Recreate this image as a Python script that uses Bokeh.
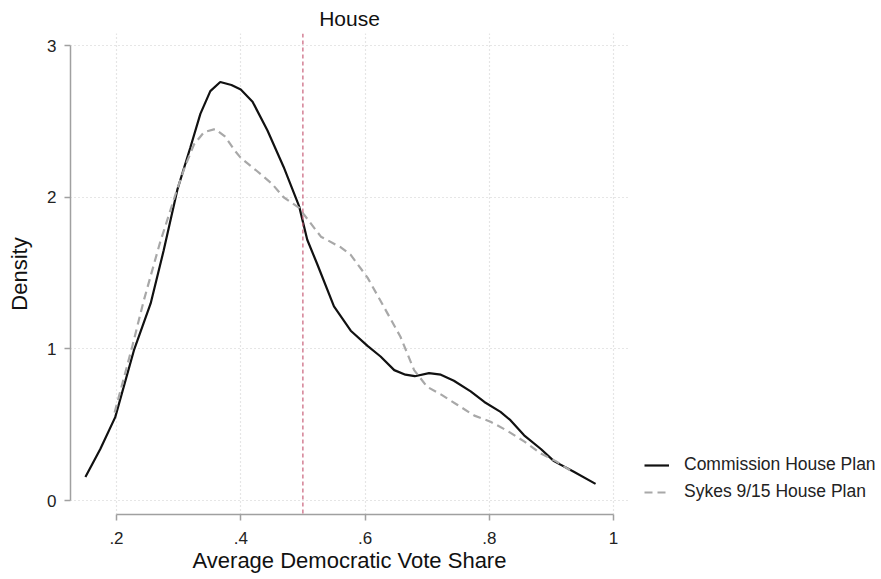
from bokeh.plotting import figure
from bokeh.models import Legend, LegendItem, Span, FixedTicker, Range1d
from bokeh.embed import file_html
from bokeh.resources import INLINE

# Commission House Plan (solid)
comm_x = [0.150, 0.174, 0.198, 0.228, 0.255, 0.276, 0.298, 0.319, 0.335, 0.351, 0.367,
          0.385, 0.400, 0.419, 0.443, 0.469, 0.494, 0.507, 0.523, 0.550, 0.577, 0.604,
          0.625, 0.647, 0.665, 0.680, 0.703, 0.722, 0.743, 0.770, 0.792, 0.818, 0.834,
          0.856, 0.883, 0.904, 0.936, 0.971]
comm_y = [0.155, 0.34, 0.55, 0.99, 1.30, 1.65, 2.05, 2.33, 2.55, 2.70, 2.76,
          2.74, 2.71, 2.63, 2.44, 2.20, 1.94, 1.72, 1.56, 1.28, 1.12, 1.02,
          0.95, 0.86, 0.83, 0.82, 0.84, 0.83, 0.79, 0.72, 0.65, 0.585, 0.53,
          0.43, 0.34, 0.26, 0.19, 0.11]

# Sykes 9/15 House Plan (dashed)
sykes_x = [0.197, 0.225, 0.244, 0.270, 0.295, 0.310, 0.325, 0.341, 0.359, 0.375, 0.390,
           0.400, 0.427, 0.450, 0.469, 0.494, 0.501, 0.529, 0.561, 0.577, 0.604, 0.630,
           0.657, 0.679, 0.700, 0.722, 0.749, 0.776, 0.802, 0.829, 0.856, 0.883, 0.907,
           0.930]
sykes_y = [0.58, 1.01, 1.32, 1.70, 2.02, 2.20, 2.35, 2.43, 2.45, 2.40, 2.31,
           2.26, 2.17, 2.09, 2.00, 1.93, 1.89, 1.74, 1.67, 1.62, 1.47, 1.28,
           1.08, 0.86, 0.75, 0.70, 0.63, 0.56, 0.52, 0.46, 0.39, 0.31, 0.26,
           0.20]

x_ticks = [0.2, 0.4, 0.6, 0.8, 1.0]
x_tick_labels = [".2", ".4", ".6", ".8", "1"]
y_ticks = [0, 1, 2, 3]
y_tick_labels = ["0", "1", "2", "3"]
cutoff = 0.5

FONT = "Liberation Sans"

p = figure(frame_width=558, frame_height=481, output_backend="svg", toolbar_location=None,
           x_range=Range1d(0.126, 1.024), y_range=Range1d(-0.092, 3.08),
           min_border_left=70, min_border_right=0, min_border_top=25,
           min_border_bottom=0, title="House")

p.outline_line_color = None
p.background_fill_color = "white"
p.border_fill_color = "white"

p.title.align = "center"
p.title.text_font = FONT
p.title.text_font_size = "21px"
p.title.text_font_style = "normal"
p.title.text_color = "#111111"
p.title.standoff = 8

for ax in (p.xaxis[0], p.yaxis[0]):
    ax.axis_line_color = "#a0a0a0"
    ax.axis_line_width = 1.5
    ax.major_tick_line_color = "#a0a0a0"
    ax.major_tick_line_width = 1.5
    ax.major_tick_out = 6
    ax.major_tick_in = 0
    ax.minor_tick_line_color = None
    ax.major_label_text_font = FONT
    ax.major_label_text_font_size = "17px"
    ax.major_label_text_color = "#222222"
    ax.axis_label_text_font = FONT
    ax.axis_label_text_font_size = "22px"
    ax.axis_label_text_font_style = "normal"
    ax.axis_label_text_color = "#111111"
    ax.major_label_standoff = 8

p.xaxis[0].ticker = FixedTicker(ticks=x_ticks)
p.xaxis[0].major_label_overrides = dict(zip(x_ticks, x_tick_labels))
p.xaxis[0].bounds = (x_ticks[0], x_ticks[-1])
p.xaxis[0].axis_label = "Average Democratic Vote Share"
p.xaxis[0].axis_label_standoff = 1
p.xaxis[0].major_label_standoff = 11

p.yaxis[0].ticker = FixedTicker(ticks=y_ticks)
p.yaxis[0].major_label_overrides = dict(zip(y_ticks, y_tick_labels))
p.yaxis[0].bounds = (y_ticks[0], y_ticks[-1])
p.yaxis[0].axis_label = "Density"
p.yaxis[0].axis_label_standoff = 12
p.yaxis[0].major_label_orientation = "horizontal"

for g in (p.xgrid[0], p.ygrid[0]):
    g.grid_line_color = "#cccccc"
    g.grid_line_dash = "1 3"
    g.grid_line_width = 1.2
p.xgrid[0].ticker = FixedTicker(ticks=x_ticks)
p.ygrid[0].ticker = FixedTicker(ticks=y_ticks)

vline = Span(location=cutoff, dimension="height", line_color="#c8607a",
             line_dash="4 3", line_width=1.2)
p.add_layout(vline)

r1 = p.line(comm_x, comm_y, line_color="#111111", line_width=2.2)
r2 = p.line(sykes_x, sykes_y, line_color="#a8a8a8", line_width=2.2, line_dash="8 5")

legend = Legend(items=[LegendItem(label="Commission House Plan", renderers=[r1]),
                       LegendItem(label="Sykes 9/15 House Plan", renderers=[r2])],
                location=(16, 12))
legend.label_text_font = FONT
legend.label_text_font_size = "17.5px"
legend.label_text_color = "#222222"
legend.glyph_width = 25
legend.label_standoff = 15
legend.spacing = 6
legend.border_line_color = None
legend.background_fill_alpha = 0
legend.margin = 10
legend.padding = 5
p.add_layout(legend, "right")

with open("out.html", "w") as f:
    f.write(file_html(p, INLINE))
